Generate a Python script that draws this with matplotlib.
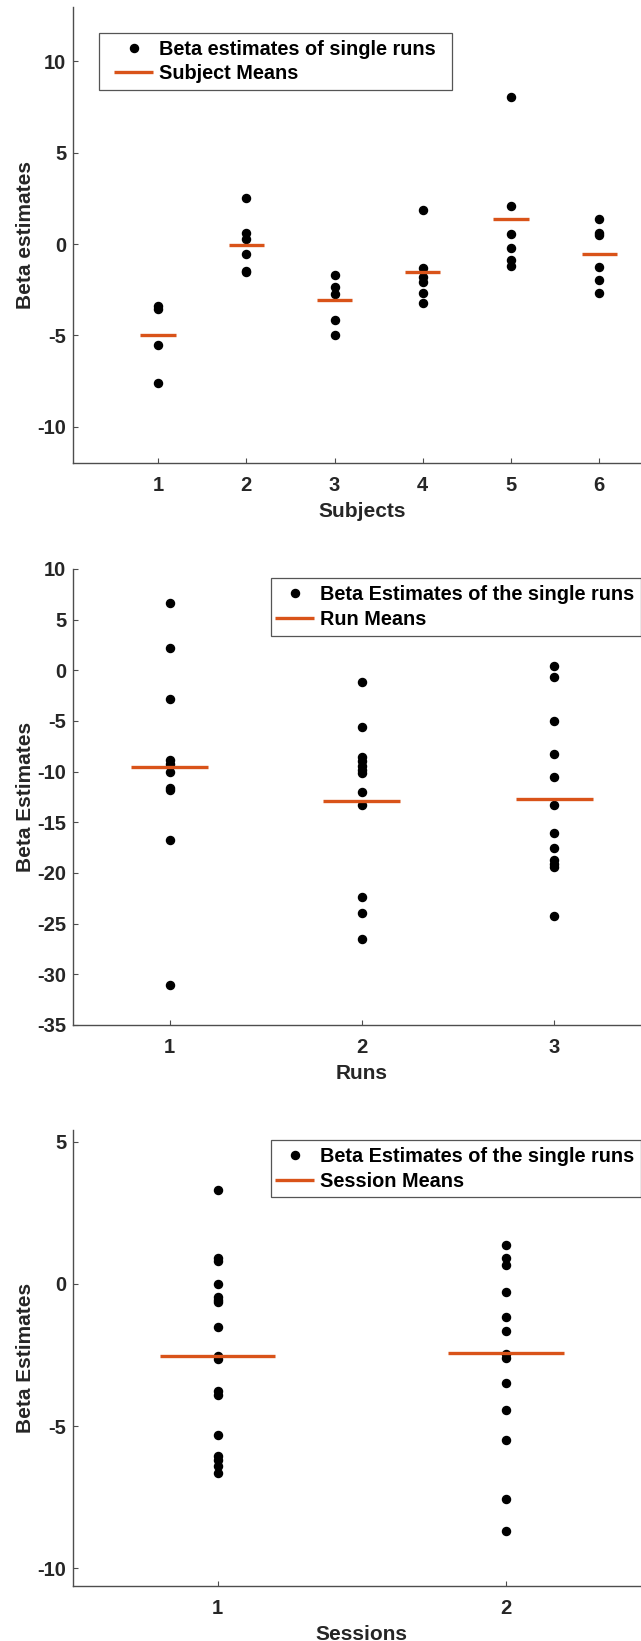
import matplotlib
matplotlib.use("Agg")
import matplotlib.pyplot as plt
from matplotlib.legend_handler import HandlerLine2D
from matplotlib.lines import Line2D

plt.rcParams['font.family'] = ['Liberation Sans', 'DejaVu Sans']
plt.rcParams['font.weight'] = 'bold'
plt.rcParams['axes.unicode_minus'] = False

# ---- data ---------------------------------------------------------------
subject_ids = [1, 2, 3, 4, 5, 6]
subject_betas = [
    [-3.4, -3.55, -5.5, -7.6],
    [2.5, 0.6, 0.3, -0.55, -1.45, -1.55],
    [-1.7, -2.35, -2.75, -4.15, -5.0],
    [1.85, -1.3, -1.8, -2.05, -2.65, -3.25],
    [8.05, 2.1, 0.55, -0.2, -0.85, -1.2],
    [1.35, 0.6, 0.5, -1.25, -1.95, -2.7],
]
subject_means = [-5.0, -0.05, -3.05, -1.55, 1.4, -0.55]

run_ids = [1, 2, 3]
run_betas = [
    [6.6, 2.2, -2.8, -8.8, -9.2, -10.05, -11.6, -11.85, -16.7, -31.1],
    [-1.15, -5.55, -8.55, -8.95, -9.4, -9.8, -10.1, -12.05, -13.25,
     -22.35, -23.9, -26.5],
    [0.45, -0.7, -5.0, -8.3, -10.5, -13.25, -16.1, -17.5, -18.7, -19.1,
     -19.45, -24.2],
]
run_means = [-9.5, -12.9, -12.7]

session_ids = [1, 2]
session_betas = [
    [3.3, 0.9, 0.8, 0.0, -0.45, -0.55, -0.65, -1.5, -2.55, -2.65, -3.75,
     -3.9, -5.3, -6.05, -6.2, -6.4, -6.65],
    [1.35, 0.9, 0.65, -0.3, -1.15, -1.65, -2.45, -2.6, -3.5, -4.45, -5.5,
     -7.55, -8.7],
]
session_means = [-2.52, -2.44]

# ---- style --------------------------------------------------------------
DOT = 'black'
MEAN = '#D95319'
AXC = '#4d4d4d'
TXT = '#262626'
W, H = 641, 1641
LEG_FS = 14.3

fig = plt.figure(figsize=(W / 100, H / 100), dpi=100)


def px_rect(left, top, right, bottom):
    return [left / W, 1 - bottom / H, (right - left) / W, (bottom - top) / H]


class LeadingPadHandler(HandlerLine2D):
    """Line/marker handler with an adjustable offset before the handle."""

    def __init__(self, lead, **kw):
        super().__init__(**kw)
        self.lead = lead

    def get_xdata(self, legend, xdescent, ydescent, width, height, fontsize):
        x0 = -xdescent + self.lead
        x1 = -xdescent + width
        return [x0, x1], [0.5 * (x0 + x1)]


def panel(rect, ids, betas, means, xlim, ylim, yticks, xlabel, ylabel,
          dot_label, mean_label, leg_box, lead):
    ax = fig.add_axes(rect)
    dot_handle = None
    for x, vals in zip(ids, betas):
        h, = ax.plot([x] * len(vals), vals, 'o', color=DOT, ms=5.8,
                     ls='none')
        dot_handle = dot_handle or h
    mean_handle = None
    for x, m in zip(ids, means):
        h, = ax.plot([x - 0.2, x + 0.2], [m, m], color=MEAN, lw=2.4,
                     solid_capstyle='butt')
        mean_handle = mean_handle or h

    ax.set_xlim(*xlim)
    ax.set_ylim(*ylim)
    ax.set_xticks(ids)
    ax.set_yticks(yticks)
    for s in ('top', 'right'):
        ax.spines[s].set_visible(False)
    for s in ('left', 'bottom'):
        ax.spines[s].set_color(AXC)
        ax.spines[s].set_linewidth(1.0)
    ax.tick_params(direction='in', length=3.6, width=0.8, color=AXC,
                   labelsize=14.5, labelcolor=TXT)
    ax.tick_params(axis='y', pad=5)
    ax.tick_params(axis='x', pad=9.2)
    for lab in ax.get_xticklabels() + ax.get_yticklabels():
        lab.set_fontweight('bold')

    ax.set_xlabel(xlabel, fontsize=15, fontweight='bold', color=TXT,
                  labelpad=5)
    ax.set_ylabel(ylabel, fontsize=15, fontweight='bold', color=TXT)
    ax.yaxis.set_label_coords(-0.066, 0.5)

    # legend: line handle is 28 pt long, shifted by `lead` points
    lx, ly, lw = leg_box
    if lw is None:
        anchor = (lx / W, 1 - ly / H)
        mode = None
    else:
        anchor = (lx / W, 1 - ly / H - 0.01, lw / W, 0.01)
        mode = 'expand'
    leg = ax.legend([dot_handle, mean_handle], [dot_label, mean_label],
                    loc='upper left', bbox_to_anchor=anchor,
                    bbox_transform=fig.transFigure, mode=mode,
                    borderaxespad=0, borderpad=0.35, labelspacing=0.28,
                    handlelength=(28.1 + lead) / LEG_FS,
                    handletextpad=0.27, numpoints=1,
                    fontsize=LEG_FS, fancybox=False, framealpha=1,
                    edgecolor='#555555',
                    handler_map={Line2D: LeadingPadHandler(lead)})
    leg.get_frame().set_linewidth(0.9)
    for t in leg.get_texts():
        t.set_fontweight('bold')
        t.set_color('black')
    return ax


panel(px_rect(73.4, 6.7, 650.4, 463.3), subject_ids, subject_betas,
      subject_means, (0.04, 6.58), (-12, 13), [-10, -5, 0, 5, 10],
      'Subjects', 'Beta estimates',
      'Beta estimates of single runs', 'Subject Means',
      (99.3, 32.7, 353), 5.9)

panel(px_rect(73.4, 569, 650.4, 1025), run_ids, run_betas, run_means,
      (0.5, 3.5), (-35, 10), list(range(-35, 11, 5)),
      'Runs', 'Beta Estimates',
      'Beta Estimates of the single runs', 'Run Means',
      (270.6, 578.3, None), -1.5)

panel(px_rect(73.4, 1130, 650.4, 1586), session_ids, session_betas,
      session_means, (0.5, 2.5), (-10.62, 5.41), [-10, -5, 0, 5],
      'Sessions', 'Beta Estimates',
      'Beta Estimates of the single runs', 'Session Means',
      (270.6, 1140, None), -1.5)

fig.savefig('out.png', dpi=100)
